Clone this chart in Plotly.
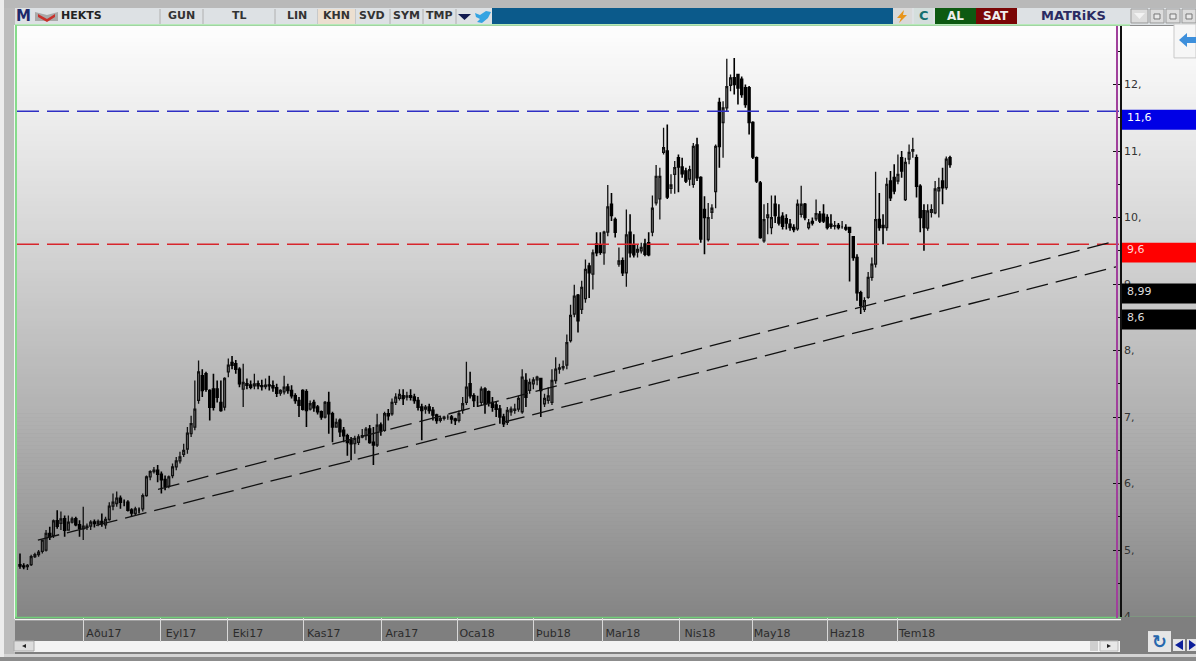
import plotly.graph_objects as go

# ---------- data ----------
TICKER = "HEKTS"
MONTH_LABELS = ["Aðu17", "Eyl17", "Eki17", "Kas17", "Ara17", "Oca18", "Þub18", "Mar18", "Nis18", "May18", "Haz18", "Tem18"]
MONTH_POS = [17.2, 37.9, 55.9, 76.3, 97.3, 117.5, 138.0, 156.7, 177.4, 196.8, 217.0, 235.8]
PRICE_TICKS = [4, 5, 6, 7, 8, 9, 10, 11, 12]
PRICE_LABELS = ["4,", "5,", "6,", "7,", "8,", "9,", "10,", "11,", "12,"]

opens = [
 4.78,4.76,4.75,4.78,4.90,4.93,4.98,5.00,5.25,5.22,
 5.44,5.40,5.47,5.30,5.42,5.47,5.38,5.32,5.34,5.36,
 5.42,5.40,5.43,5.38,5.46,5.66,5.70,5.78,5.72,5.72,
 5.60,5.55,5.60,5.62,5.82,6.10,6.18,6.20,6.14,6.06,
 5.96,6.12,6.25,6.34,6.44,6.52,6.75,6.85,7.25,7.62,
 7.65,7.40,7.42,7.42,7.22,7.15,7.68,7.82,7.80,7.72,
 7.42,7.50,7.48,7.47,7.50,7.47,7.46,7.48,7.47,7.44,
 7.36,7.38,7.45,7.40,7.32,7.25,7.40,7.38,7.12,7.22,
 7.15,7.08,7.00,7.22,7.05,6.85,6.95,6.80,6.72,6.65,
 6.60,6.62,6.70,6.72,6.82,6.62,6.58,6.88,6.80,7.05,
 7.05,7.22,7.28,7.32,7.30,7.32,7.30,7.25,7.15,7.12,
 7.15,7.10,7.03,6.95,6.98,7.00,7.00,6.97,6.95,7.10,
 7.22,7.50,7.32,7.22,7.22,7.42,7.38,7.22,7.18,7.12,
 7.00,6.92,7.08,7.10,7.12,7.08,7.55,7.40,7.50,7.56,
 7.58,7.20,7.25,7.22,7.55,7.72,7.74,7.78,8.15,8.55,
 8.83,8.62,8.78,9.27,9.15,9.60,9.58,9.47,9.78,10.20,
 9.97,9.30,9.35,9.17,9.78,9.58,9.48,9.50,9.60,9.62,
 9.78,10.22,10.28,10.98,11.00,10.44,10.65,10.90,10.76,10.70,
 10.58,10.50,11.09,10.60,10.12,9.67,10.08,10.39,11.73,11.43,
 11.65,11.99,12.10,12.15,12.08,11.95,11.95,11.43,10.90,10.52,
 9.65,10.00,9.85,10.20,10.00,10.02,9.98,9.90,9.85,9.83,
 10.05,10.20,9.85,9.94,9.98,10.05,10.05,10.00,9.90,9.87,
 9.88,9.86,9.85,9.85,9.71,9.40,8.87,8.62,8.80,9.10,
 9.30,9.97,9.88,9.85,10.55,10.60,10.55,10.90,10.27,10.88,
 11.00,10.90,10.47,10.10,9.84,10.08,10.07,10.40,10.55,10.45,
 10.90,
]
highs = [
 4.95,4.80,4.79,4.93,4.96,5.00,5.16,5.30,5.35,5.46,
 5.60,5.58,5.52,5.52,5.50,5.50,5.45,5.65,5.40,5.45,
 5.46,5.46,5.55,5.50,5.72,5.85,5.88,5.82,5.76,5.75,
 5.63,5.65,5.64,5.85,6.12,6.20,6.25,6.28,6.18,6.12,
 6.12,6.30,6.40,6.48,6.60,6.85,7.02,7.55,7.85,7.72,
 7.68,7.42,7.65,7.55,7.55,7.60,7.88,7.92,7.86,7.75,
 7.80,7.58,7.55,7.65,7.55,7.56,7.58,7.62,7.55,7.50,
 7.42,7.62,7.50,7.48,7.36,7.30,7.42,7.42,7.25,7.26,
 7.18,7.10,7.24,7.38,7.08,6.98,6.98,6.85,6.75,6.70,
 6.72,6.74,6.82,6.85,6.88,6.85,7.05,6.92,7.08,7.12,
 7.28,7.36,7.42,7.42,7.38,7.42,7.35,7.30,7.20,7.18,
 7.20,7.15,7.05,7.02,7.02,7.04,7.03,6.99,7.10,7.30,
 7.83,7.68,7.36,7.32,7.46,7.45,7.40,7.30,7.24,7.18,
 7.05,7.15,7.16,7.20,7.32,7.72,7.66,7.58,7.60,7.62,
 7.58,7.35,7.45,7.72,7.90,7.80,7.85,8.24,8.69,8.99,
 8.85,9.05,9.37,9.32,9.52,9.78,9.78,9.80,10.49,10.37,
 10.00,9.55,9.40,10.12,10.05,9.75,9.60,9.62,9.68,9.78,
 10.33,10.79,10.75,11.35,11.40,10.65,10.85,10.95,10.90,10.75,
 10.78,11.12,11.20,10.62,10.32,10.22,10.20,11.10,11.80,11.75,
 12.39,12.15,12.40,12.15,12.12,12.00,11.98,11.45,10.92,10.55,
 10.20,10.22,10.33,10.33,10.20,10.08,10.05,9.98,9.90,10.27,
 10.48,10.22,9.98,10.00,10.27,10.10,10.20,10.05,10.05,9.95,
 9.92,9.95,9.90,9.85,9.72,9.45,8.90,8.80,9.18,9.40,
 10.69,10.37,10.05,10.60,10.70,10.80,10.95,11.00,10.90,11.10,
 11.20,10.95,10.50,10.20,10.20,10.20,10.55,10.60,10.75,10.92,
 10.93,
]
lows = [
 4.72,4.71,4.70,4.76,4.88,4.90,4.95,4.98,5.15,5.18,
 5.32,5.30,5.20,5.30,5.40,5.36,5.20,5.15,5.30,5.30,
 5.34,5.36,5.35,5.32,5.44,5.60,5.65,5.62,5.66,5.58,
 5.50,5.52,5.55,5.58,5.80,6.05,6.15,6.02,5.85,5.90,
 5.93,6.08,6.20,6.30,6.40,6.45,6.70,6.80,7.20,7.30,
 7.38,6.95,7.10,7.22,7.08,7.10,7.60,7.72,7.65,7.45,
 7.15,7.42,7.42,7.42,7.42,7.40,7.42,7.40,7.38,7.30,
 7.32,7.34,7.35,7.28,7.20,7.00,7.10,6.85,7.10,7.08,
 7.04,6.96,6.98,6.75,6.62,6.85,6.70,6.62,6.42,6.35,
 6.45,6.58,6.68,6.65,6.60,6.28,6.55,6.72,6.78,6.95,
 7.02,7.18,7.25,7.18,7.25,7.25,7.20,7.10,6.65,7.05,
 7.05,6.95,6.90,6.92,6.95,6.96,6.90,6.88,6.92,7.05,
 7.18,7.28,7.15,7.15,7.18,7.05,7.16,7.08,7.00,6.90,
 6.85,6.88,7.02,7.05,7.08,7.05,7.15,7.35,7.42,7.48,
 7.00,7.15,7.20,7.18,7.50,7.65,7.70,7.72,8.12,8.50,
 8.27,8.55,8.72,8.79,8.92,9.42,9.44,9.29,9.72,9.95,
 9.70,9.26,9.12,8.96,9.40,9.40,9.40,9.46,9.42,9.42,
 9.72,10.18,9.97,10.95,10.28,10.36,10.36,10.38,10.60,10.52,
 10.48,10.45,10.55,9.62,9.45,9.64,9.98,10.14,10.75,10.90,
 11.60,11.90,11.85,11.70,11.80,11.65,11.25,10.88,10.52,9.68,
 9.62,9.75,9.75,9.92,9.88,9.82,9.82,9.80,9.78,9.80,
 10.00,9.96,9.82,9.88,9.95,9.92,9.92,9.82,9.83,9.82,
 9.82,9.83,9.80,9.04,9.35,8.75,8.55,8.58,8.78,9.05,
 9.25,9.80,9.60,9.80,10.25,10.35,10.50,10.60,10.25,10.80,
 10.90,10.30,9.78,9.50,9.80,10.00,10.05,10.00,10.20,10.42,
 10.75,
]
closes = [
 4.76,4.75,4.77,4.90,4.93,4.97,5.15,5.25,5.20,5.44,
 5.36,5.47,5.30,5.42,5.47,5.38,5.33,5.36,5.36,5.42,
 5.40,5.43,5.40,5.46,5.66,5.72,5.78,5.72,5.72,5.60,
 5.56,5.62,5.60,5.82,6.10,6.18,6.20,6.14,6.06,5.96,
 6.10,6.25,6.34,6.40,6.50,6.76,6.90,7.12,7.68,7.40,
 7.42,7.15,7.15,7.30,7.10,7.58,7.78,7.78,7.72,7.50,
 7.52,7.48,7.45,7.50,7.47,7.46,7.48,7.47,7.44,7.36,
 7.40,7.45,7.40,7.32,7.25,7.18,7.12,7.10,7.20,7.14,
 7.08,7.00,7.22,7.05,6.85,6.92,6.78,6.72,6.62,6.60,
 6.68,6.70,6.72,6.82,6.62,6.58,6.88,6.80,7.05,7.02,
 7.22,7.30,7.34,7.28,7.32,7.30,7.25,7.15,7.10,7.15,
 7.10,7.03,6.95,6.98,7.00,7.00,6.97,6.95,7.05,7.20,
 7.45,7.32,7.25,7.22,7.42,7.20,7.22,7.15,7.12,7.00,
 6.90,7.10,7.12,7.12,7.28,7.60,7.30,7.52,7.56,7.60,
 7.40,7.28,7.32,7.55,7.72,7.74,7.76,8.12,8.53,8.82,
 8.45,8.95,9.22,9.17,9.47,9.47,9.48,9.78,10.16,10.03,
 9.78,9.35,9.17,9.74,9.47,9.44,9.52,9.55,9.45,9.44,
 10.14,10.62,10.62,11.05,10.31,10.49,10.75,10.76,10.66,10.55,
 10.72,11.07,10.60,9.68,10.00,10.00,10.14,11.07,11.07,11.65,
 11.97,12.10,12.00,11.95,11.85,11.70,11.43,10.91,10.55,9.70,
 9.97,10.04,10.00,10.03,9.92,9.87,9.92,9.85,9.82,10.20,
 10.20,10.00,9.92,9.92,10.06,9.95,9.95,9.85,9.87,9.88,
 9.85,9.86,9.83,9.78,9.40,8.87,8.68,8.75,9.10,9.30,
 9.97,9.85,9.85,10.50,10.30,10.40,10.65,10.70,10.83,10.98,
 11.02,10.47,10.00,9.85,10.10,10.12,10.43,10.45,10.45,10.88,
 10.80,
]
assert len(opens) == len(highs) == len(lows) == len(closes), (len(opens), len(highs), len(lows), len(closes))
sessions = list(range(len(closes)))

LEVEL_BLUE = 11.6
LEVEL_RED = 9.6
TREND_UPPER_X = [37.1, 294.9]
TREND_UPPER_Y = [5.914, 9.653]
TREND_LOWER_X = [4.8, 294.9]
TREND_LOWER_Y = [5.149, 9.263]
FLAG_LABELS = ["11,6", "9,6", "8,99", "8,6"]

# ---------- page geometry ----------
W, H = 1196, 661
BOTTOM_PAD = 5   # plotly reserves this strip below the paper area
PX_L, PX_R, PX_T, PX_B = 17, 1120, 26, 618
STEP = 3.72
X0 = 20
X_RANGE = [(PX_L - X0) / STEP, (PX_R - X0) / STEP]
UNIT = 66.6
Y_RANGE = [4 + (617.5 - PX_B) / UNIT, 4 + (617.5 - PX_T) / UNIT]
FONT = "DejaVu Sans"


def fx(x):
    return x / W


def fy(y):
    return 1 - y / H


shapes = []
notes = []


def rect(x0, y0, x1, y1, color, layer="below", line=None):
    shapes.append(dict(type="rect", xref="paper", yref="paper", x0=fx(x0), x1=fx(x1),
                       y0=fy(y1), y1=fy(y0), fillcolor=color, layer=layer,
                       line=dict(color=line or color, width=1 if line else 0)))


def poly(points, color, layer="below"):
    path = "M " + " L ".join(f"{fx(a):.5f} {fy(b):.5f}" for a, b in points) + " Z"
    shapes.append(dict(type="path", xref="paper", yref="paper", path=path, fillcolor=color,
                       layer=layer, line=dict(width=0)))


def vline(x, y0, y1, color, width=1, layer="below"):
    shapes.append(dict(type="line", xref="paper", yref="paper", x0=fx(x), x1=fx(x),
                       y0=fy(y0), y1=fy(y1), layer=layer, line=dict(color=color, width=width)))


def hline(y, x0, x1, color, width=1, layer="below"):
    shapes.append(dict(type="line", xref="paper", yref="paper", x0=fx(x0), x1=fx(x1),
                       y0=fy(y), y1=fy(y), layer=layer, line=dict(color=color, width=width)))


def text(x, y, s, size=11, color="#222", bold=False, anchor="left", family=FONT):
    notes.append(dict(xref="paper", yref="paper", x=fx(x), y=fy(y), text=f"<b>{s}</b>" if bold else s,
                      showarrow=False, xanchor=anchor, yanchor="middle",
                      font=dict(family=family, size=size, color=color), borderpad=0, borderwidth=0))


# window frame
rect(0, 0, 4, H, "#ececec")
rect(4, 0, W, 8, "#b9b9b9")
rect(4, 8, 15, 655, "#bcbcbc")
rect(4, 655, W, 658, "#d4d4d4")
rect(0, 658, W, H, "#8c8c8c")

# background gradient of the chart panel
STOPS = [(26, 253), (110, 238), (250, 211), (350, 190), (500, 160), (618, 132)]
y_cur = 26
while y_cur < 618:
    for (a, ca), (b, cb) in zip(STOPS, STOPS[1:]):
        if a <= y_cur < b:
            g = round(ca + (cb - ca) * (y_cur - a) / (b - a))
            break
    rect(15, y_cur, W, y_cur + 4.5, f"rgb({g},{g},{g})")
    y_cur += 4

# toolbar
rect(15, 8, W, 25, "#dde1e4")
rect(492, 8, 893, 24, "#0b5a8b")
for xs in (160, 203, 275, 318, 355, 390, 423, 456):
    vline(xs, 9, 24, "#b0b0b0")
rect(318, 9, 355, 24, "#ecdfd0")
text(16, 16, "M", 15, "#1d2a6b", True)
poly([(35, 12), (47, 15), (58, 12), (58, 21), (35, 21)], "#a9a9a9")
poly([(38, 14), (47, 19), (55, 14), (55, 17), (47, 22), (38, 17)], "#c8312b")
text(61, 16, TICKER, 11, "#222", True)
text(181, 16, "GUN", 11, "#333", True, "center")
text(239, 16, "TL", 11, "#333", True, "center")
text(297, 16, "LIN", 11, "#333", True, "center")
text(336, 16, "KHN", 11, "#333", True, "center")
text(372, 16, "SVD", 11, "#333", True, "center")
text(406, 16, "SYM", 11, "#333", True, "center")
text(439, 16, "TMP", 11, "#333", True, "center")
poly([(458, 14), (471, 14), (464.5, 20)], "#111a50")
poly([(475, 13), (480, 15), (486, 11), (491, 12), (488, 18), (482, 23), (477, 22), (480, 19), (476, 17)], "#35a4e2")
rect(893, 8, 912, 24, "#d9d9d9")
poly([(904, 10), (897, 18), (901, 18), (899, 23), (907, 15), (903, 15)], "#e8941a")
rect(914, 8, 933, 24, "#d4dedc")
text(923.5, 16, "C", 13, "#14706e", True, "center")
rect(935, 8, 976, 24, "#0d5a12")
rect(976, 8, 1017, 24, "#7a0606")
text(955, 16, "AL", 12, "#eeeeee", True, "center")
text(996, 16, "SAT", 12, "#eeeeee", True, "center")
text(1073, 16, "MATRiKS", 13, "#2b2b62", True, "center")
rect(1131, 9, 1148, 23, "#dcdcdc", line="#9a9a9a")
poly([(1134, 13), (1145, 13), (1139.5, 19)], "#f2f2f2")
for bx in (1150, 1166, 1182):
    rect(bx, 9, bx + 14, 23, "#dcdcdc", line="#9a9a9a")
    rect(bx + 4, 14, bx + 10, 19, "#e8e8e8", line="#777777")

# green plot outline
hline(25, 15, 1130, "#a8ecaa", 1.5)
vline(16, 25, 619, "#86dc8c", 2)
vline(14.5, 25, 620, "#f4f4f4", 1)
hline(618.5, 15, W, "#6fcf78", 1.5)

# bottom band and scrollbar
rect(15, 620, W, 621.5, "#f4f4f4")
rect(15, 621.5, W, 655, "#7f7f7f")
rect(14, 642, 1120, 653, "#f3f3f3")
rect(14, 642, 34, 652, "#dddddd", line="#aaaaaa")
poly([(22, 647), (26, 645), (26, 649)], "#222222")
rect(1090, 642, 1098, 652, "#cfcfcf")
rect(1100, 642, 1118, 652, "#e8e8e8", line="#bbbbbb")
poly([(1111, 647), (1107, 645), (1107, 649)], "#222222")
rect(1148, 632, 1171, 653, "#e6e6e6")
text(1159.5, 642, "↻", 18, "#2768ad", True, "center")
rect(1173, 640, 1185, 652, "#e6e6e6")
poly([(1175, 646), (1183, 641), (1183, 651)], "#0d1f9a")
rect(1187, 640, W, 652, "#e6e6e6")
poly([(1196, 646), (1189, 641), (1189, 651)], "#0d1f9a")

# arrow tab at top right
rect(1174, 24, W, 58, "#f6f6f6", line="#c9c9c9")
poly([(1179, 40), (1187, 33), (1187, 37), (W, 37), (W, 43), (1187, 43), (1187, 47)], "#3d8fdb")

# price flags on top of the axis labels
rect(PX_R + 1, 618, W, 622, "#7f7f7f", layer="above")
rect(1122, 110, W, 130, "#0000e6", layer="above")
rect(1122, 243, W, 263, "#ff0000", layer="above")
rect(1122, 284, W, 304, "#000000", layer="above")
rect(1122, 310, W, 330, "#000000", layer="above")
text(1127, 118, FLAG_LABELS[0], 11, "#ffffff")
text(1127, 250, FLAG_LABELS[1], 11, "#ffd8d8")
text(1127, 292, FLAG_LABELS[2], 11, "#dddddd")
text(1127, 318, FLAG_LABELS[3], 11, "#dddddd")

# purple price rail
vline(1117, 26, 619, "#a0409c", 2, "above")

DASH = "22px,8px"
fig = go.Figure()
fig.add_trace(go.Scatter(x=X_RANGE, y=[LEVEL_BLUE, LEVEL_BLUE], mode="lines",
                         line=dict(color="#2f2fc4", width=1.5, dash=DASH), hoverinfo="skip"))
fig.add_trace(go.Scatter(x=X_RANGE, y=[LEVEL_RED, LEVEL_RED], mode="lines",
                         line=dict(color="#d8262c", width=1.5, dash=DASH), hoverinfo="skip"))
fig.add_trace(go.Scatter(x=TREND_UPPER_X, y=TREND_UPPER_Y, mode="lines",
                         line=dict(color="#111111", width=1.3, dash=DASH), hoverinfo="skip"))
fig.add_trace(go.Scatter(x=TREND_LOWER_X, y=TREND_LOWER_Y, mode="lines",
                         line=dict(color="#111111", width=1.3, dash=DASH), hoverinfo="skip"))
fig.add_trace(go.Candlestick(
    x=sessions, open=opens, high=highs, low=lows, close=closes,
    increasing=dict(line=dict(color="#111111", width=1.3), fillcolor="rgba(135,135,135,0.8)"),
    decreasing=dict(line=dict(color="#000000", width=1.6), fillcolor="#000000"),
    whiskerwidth=0,
))

fig.update_layout(
    width=W, height=H + BOTTOM_PAD, autosize=False,
    margin=dict(l=0, r=0, t=0, b=0, pad=0),
    paper_bgcolor="#8c8c8c", plot_bgcolor="rgba(0,0,0,0)",
    showlegend=False, shapes=shapes, annotations=notes,
    font=dict(family=FONT, size=11, color="#333333"),
    xaxis=dict(domain=[fx(PX_L), fx(PX_R)], range=X_RANGE, rangeslider=dict(visible=False),
               showgrid=False, zeroline=False, showline=False,
               tickmode="array", tickvals=MONTH_POS, ticktext=MONTH_LABELS,
               ticks="outside", ticklen=24, tickcolor="#d8d8d8", tickwidth=1,
               ticklabelshift=20, ticklabelstandoff=-18,
               tickfont=dict(family=FONT, size=11, color="#2c2c2c")),
    yaxis=dict(domain=[fy(PX_B), fy(PX_T)], range=Y_RANGE, side="right",
               showgrid=False, zeroline=False, showline=True, linecolor="#111111", linewidth=1.5,
               tickmode="array", tickvals=PRICE_TICKS, ticktext=PRICE_LABELS,
               ticks="inside", ticklen=7, tickcolor="#111111", tickwidth=1,
               minor=dict(dtick=0.5, ticks="inside", ticklen=3, tickcolor="#111111", tickwidth=1),
               tickfont=dict(family=FONT, size=11, color="#333333")),
)

fig.write_html("out.html", config={"displayModeBar": False},
               post_script="document.body.style.margin='0';document.documentElement.style.overflow='hidden';")
